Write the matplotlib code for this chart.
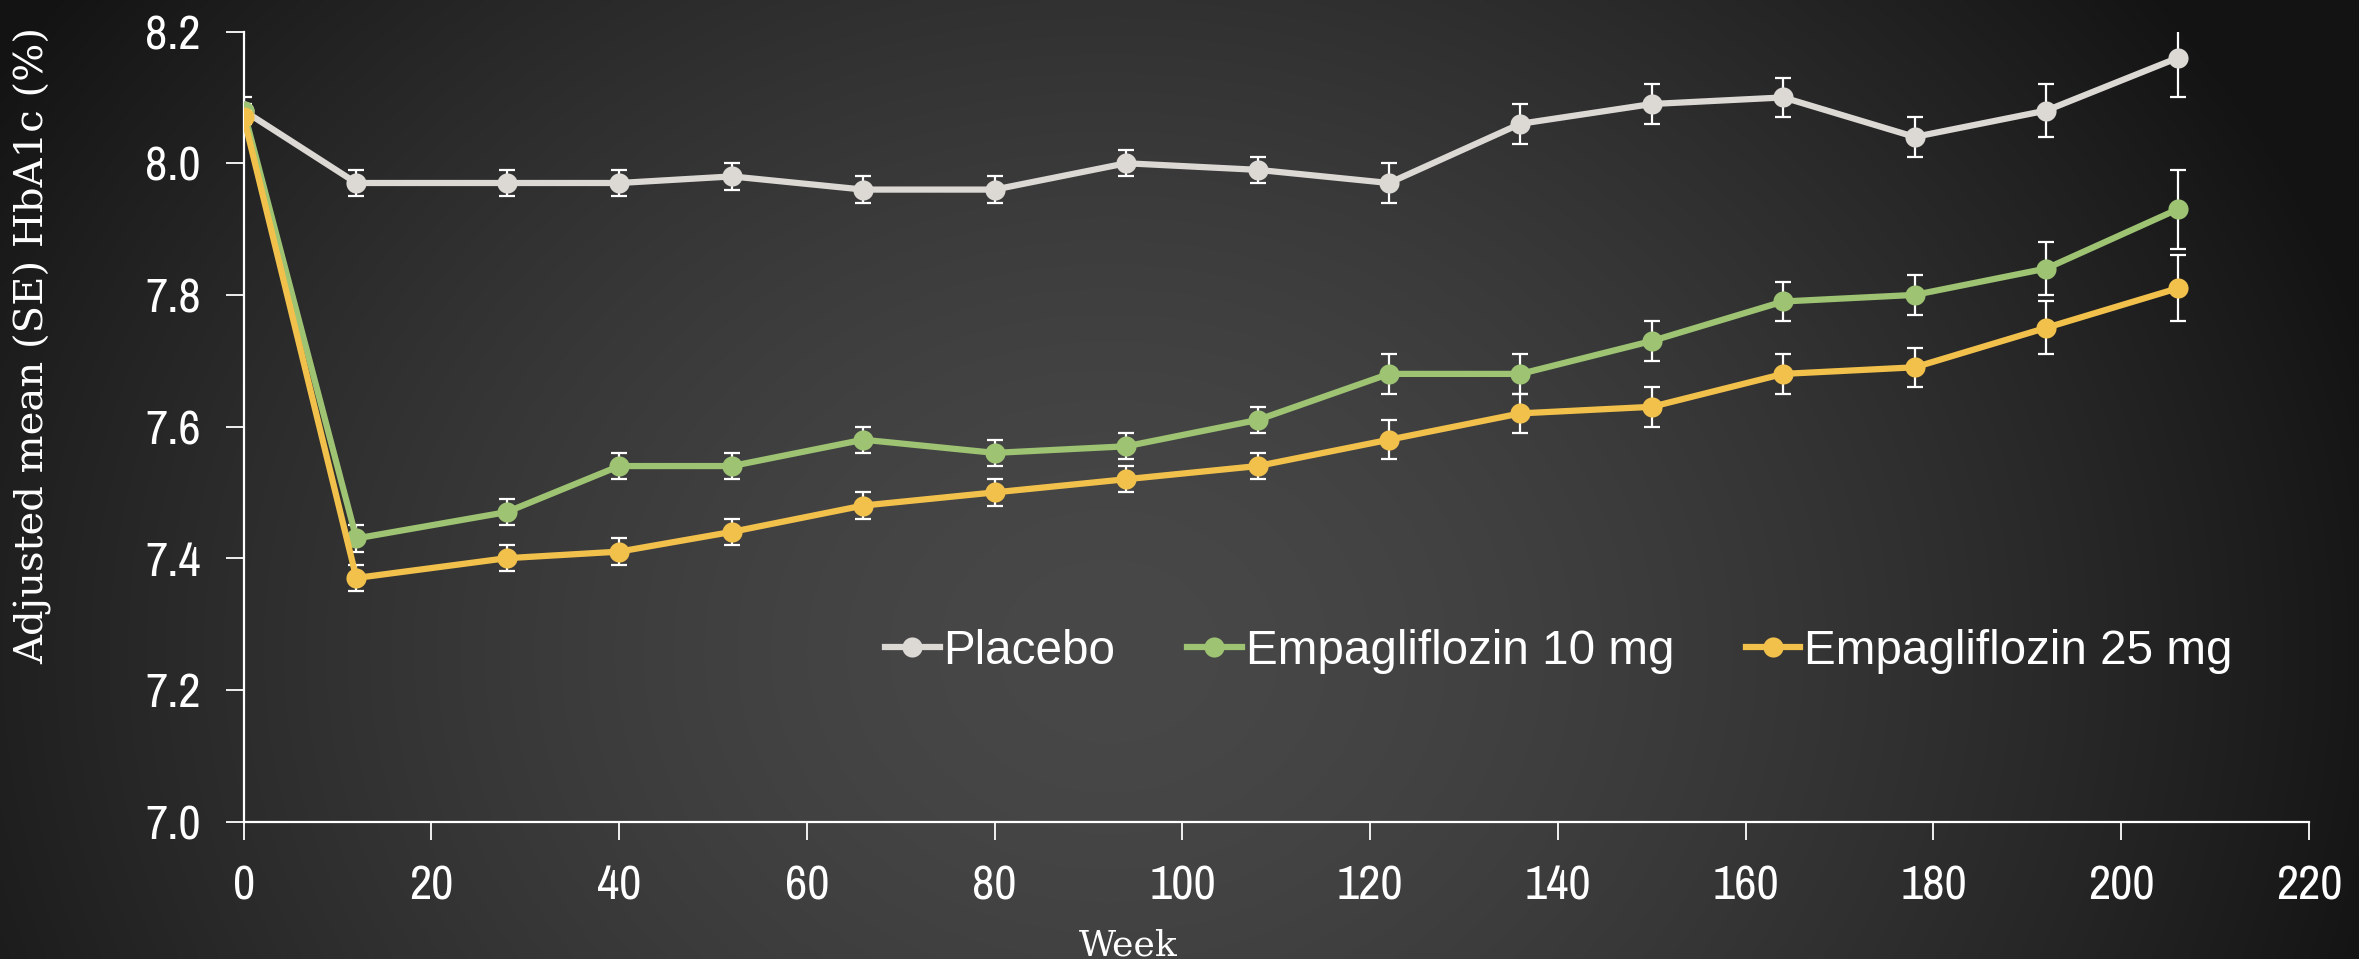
import numpy as np
import matplotlib
matplotlib.use("Agg")
import matplotlib.pyplot as plt
from matplotlib import font_manager

# ---------------- data ----------------
weeks = [0, 12, 28, 40, 52, 66, 80, 94, 108, 122, 136, 150, 164, 178, 192, 206]
placebo = [8.08, 7.97, 7.97, 7.97, 7.98, 7.96, 7.96, 8.00, 7.99, 7.97, 8.06, 8.09, 8.10, 8.04, 8.08, 8.16]
placebo_se = [0.02, 0.02, 0.02, 0.02, 0.02, 0.02, 0.02, 0.02, 0.02, 0.03, 0.03, 0.03, 0.03, 0.03, 0.04, 0.06]
empa10 = [8.08, 7.43, 7.47, 7.54, 7.54, 7.58, 7.56, 7.57, 7.61, 7.68, 7.68, 7.73, 7.79, 7.80, 7.84, 7.93]
empa10_se = [0.01, 0.02, 0.02, 0.02, 0.02, 0.02, 0.02, 0.02, 0.02, 0.03, 0.03, 0.03, 0.03, 0.03, 0.04, 0.06]
empa25 = [8.07, 7.37, 7.40, 7.41, 7.44, 7.48, 7.50, 7.52, 7.54, 7.58, 7.62, 7.63, 7.68, 7.69, 7.75, 7.81]
empa25_se = [0.01, 0.02, 0.02, 0.02, 0.02, 0.02, 0.02, 0.02, 0.02, 0.03, 0.03, 0.03, 0.03, 0.03, 0.04, 0.05]
series_names = ["Placebo", "Empagliflozin 10 mg", "Empagliflozin 25 mg"]
xticks = list(range(0, 221, 20))
yticks = [7.0, 7.2, 7.4, 7.6, 7.8, 8.0, 8.2]
xlabel = "Week"
ylabel = "Adjusted mean (SE) HbA1c (%)"

colors = ["#DCD8D4", "#9DC373", "#F2C14C"]

# ---------------- fonts ----------------
tick_fp = None
for f in font_manager.fontManager.ttflist:
    if "Narrow" in f.name and f.style == "normal" and f.weight in (400, "normal", "regular"):
        tick_fp = font_manager.FontProperties(fname=f.fname, size=35)
        break
if tick_fp is None:
    tick_fp = font_manager.FontProperties(family=["Liberation Sans", "DejaVu Sans"], size=35)
legend_font = ["Liberation Sans", "DejaVu Sans"]
label_font = ["DejaVu Serif"]

W, H = 2359, 959
fig = plt.figure(figsize=(W / 100, H / 100), dpi=100)

# background radial gradient
bg = fig.add_axes([0, 0, 1, 1], zorder=-10)
gx, gy = np.meshgrid(np.linspace(0, 1, 600), np.linspace(0, 1, 250))
d = np.sqrt(((gx - 0.47) / 0.56) ** 2 + ((gy - 0.32) / 1.15) ** 2)
d = np.clip(d, 0, 1)
val = (0x48 - (0x48 - 0x13) * d ** 1.6) / 255.0
img = np.dstack([val, val, val])
bg.imshow(img, extent=[0, 1, 0, 1], origin="lower", aspect="auto", interpolation="bilinear")
bg.set_axis_off()

left = 243.7 / W
right = 2309 / W
bottom = 1 - 821.5 / H
top = 1 - 31.6 / H
ax = fig.add_axes([left, bottom, right - left, top - bottom])
ax.set_facecolor("none")

all_vals = [(placebo, placebo_se), (empa10, empa10_se), (empa25, empa25_se)]
for i, ((vals, se), c, name) in enumerate(zip(all_vals, colors, series_names)):
    ax.errorbar(weeks, vals, yerr=se, fmt="none", ecolor="white", elinewidth=1.6,
                capsize=5.5, capthick=1.6, zorder=2 + i * 2)
    ax.plot(weeks, vals, color=c, lw=4.5, marker="o", markersize=14.5,
            markeredgewidth=0, label=name, zorder=3 + i * 2)

ax.set_xlim(0, 220)
ax.set_ylim(7.0, 8.2)
ax.set_xticks(xticks)
ax.set_yticks(yticks)
ax.set_xticklabels([str(t) for t in xticks])
ax.set_yticklabels([f"{t:.1f}" for t in yticks])
for s in ["top", "right"]:
    ax.spines[s].set_visible(False)
for s in ["left", "bottom"]:
    ax.spines[s].set_color("white")
    ax.spines[s].set_linewidth(1.6)
ax.tick_params(axis="both", direction="out", length=13, width=1.3, colors="white",
               labelsize=35, pad=18)
for lab in ax.get_xticklabels() + ax.get_yticklabels():
    lab.set_fontproperties(tick_fp)
    lab.set_color("white")

fig.text(33 / W, 1 - 345 / H, ylabel, rotation=90, ha="center", va="center",
         color="white", fontsize=28.9, family=label_font)
fig.text(1128 / W, 1 - 956 / H, xlabel, ha="center", va="baseline",
         color="white", fontsize=26, family=label_font)

leg = ax.legend(loc="center left", bbox_to_anchor=(885 / W, 1 - 651 / H),
                bbox_transform=fig.transFigure, ncol=3, frameon=False,
                borderpad=0, borderaxespad=0, handlelength=1.15, handletextpad=0.08,
                columnspacing=1.5, prop={"family": legend_font, "size": 34.3})
for t in leg.get_texts():
    t.set_color("white")

fig.savefig("out.png", dpi=100, facecolor="#1e1e1e")
